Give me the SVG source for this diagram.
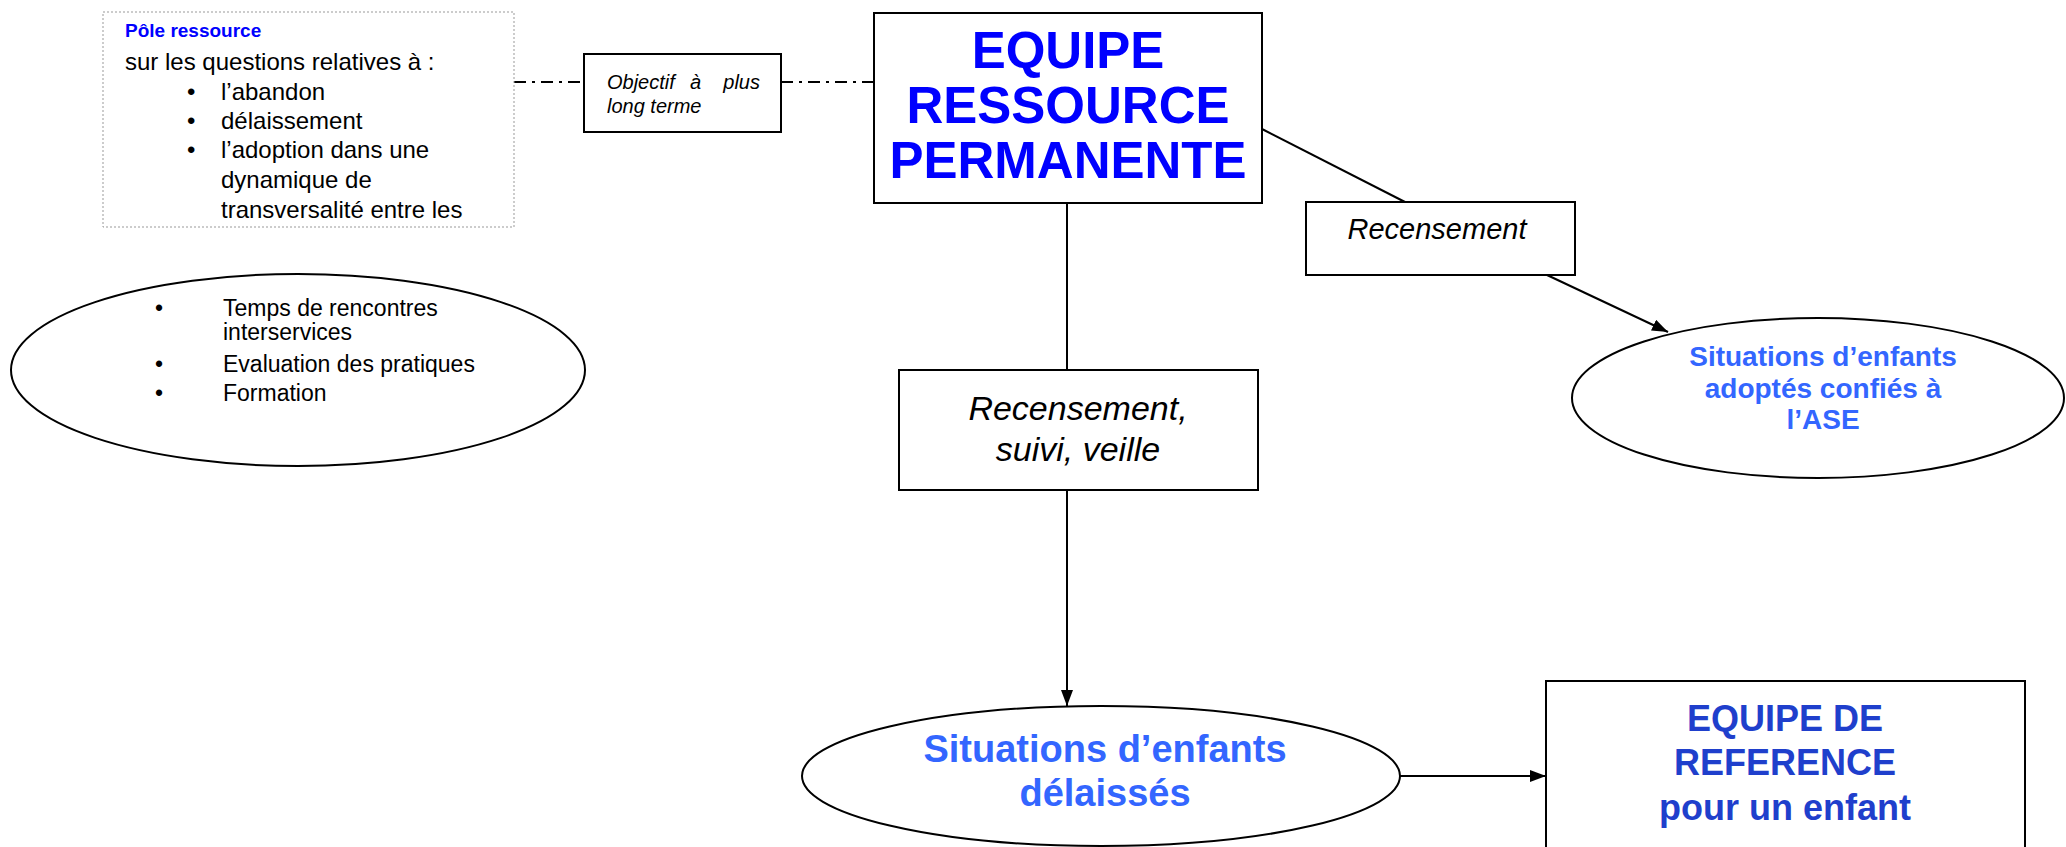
<svg xmlns="http://www.w3.org/2000/svg" width="2066" height="847" viewBox="0 0 2066 847">
<style>
text{font-family:"Liberation Sans",Arial,sans-serif;fill:#000}
.box{fill:#fff;stroke:#000;stroke-width:2}
.ell{fill:#fff;stroke:#000;stroke-width:2}
.ln{stroke:#000;stroke-width:2;fill:none}
.dd{stroke:#000;stroke-width:2;fill:none;stroke-dasharray:12 6 3 6}
.it{font-style:italic}
.b{font-weight:bold}
.blue{fill:#0000FF}
.lblue{fill:#3366FF}
.dblue{fill:#1F3FCC}
</style>
<defs>
<marker id="arr" viewBox="0 0 16 12" refX="16" refY="6" markerWidth="16" markerHeight="12" markerUnits="userSpaceOnUse" orient="auto">
<path d="M0,0 L16,6 L0,12 Z" fill="#000"/>
</marker>
</defs>
<rect width="2066" height="847" fill="#fff"/>

<g id="connectors">
<line class="dd" x1="514" y1="82" x2="584" y2="82"/>
<line class="dd" x1="781" y1="82" x2="874" y2="82"/>
<line class="ln" x1="1067" y1="203" x2="1067" y2="370"/>
<line class="ln" x1="1067" y1="490" x2="1067" y2="706" marker-end="url(#arr)"/>
<line class="ln" x1="1262" y1="129" x2="1405" y2="202"/>
<line class="ln" x1="1547" y1="275" x2="1668" y2="332" marker-end="url(#arr)"/>
<line class="ln" x1="1400" y1="776" x2="1546" y2="776" marker-end="url(#arr)"/>
</g>

<g id="pole">
<rect x="103" y="12" width="411" height="215" fill="#fff" stroke="#999" stroke-width="1" stroke-dasharray="2 2"/>
<text x="125" y="37" font-size="19" class="b blue">Pôle ressource</text>
<g font-size="24">
<text x="125" y="70">sur les questions relatives à :</text>
<text x="187" y="100">•</text><text x="221" y="100">l’abandon</text>
<text x="187" y="129">•</text><text x="221" y="129">délaissement</text>
<text x="187" y="158">•</text><text x="221" y="158">l’adoption dans une</text>
<text x="221" y="188">dynamique de</text>
<text x="221" y="218">transversalité entre les</text>
</g>
</g>

<g id="objectif">
<rect class="box" x="584" y="54" width="197" height="78"/>
<g font-size="20" class="it">
<text x="607" y="89">Objectif</text>
<text x="690" y="89">à</text>
<text x="760" y="89" text-anchor="end">plus</text>
<text x="607" y="113">long terme</text>
</g>
</g>

<g id="equipe-ressource">
<rect class="box" x="874" y="13" width="388" height="190"/>
<g font-size="51" class="b" text-anchor="middle">
<text x="1068" y="68" class="blue">EQUIPE</text>
<text x="1068" y="123" class="blue">RESSOURCE</text>
<text x="1068" y="178" class="blue">PERMANENTE</text>
</g>
</g>

<g id="suivi">
<rect class="box" x="899" y="370" width="359" height="120"/>
<text x="1078" y="420" font-size="34" class="it" text-anchor="middle">Recensement,</text>
<text x="1078" y="461" font-size="34" class="it" text-anchor="middle">suivi, veille</text>
</g>

<g id="recensement">
<rect class="box" x="1306" y="202" width="269" height="73"/>
<text x="1437" y="239" font-size="29" class="it" text-anchor="middle">Recensement</text>
</g>

<g id="adoptes">
<ellipse class="ell" cx="1818" cy="398" rx="246" ry="80"/>
<g font-size="28" class="b" text-anchor="middle">
<text x="1823" y="366" class="lblue">Situations d’enfants</text>
<text x="1823" y="398" class="lblue">adoptés confiés à</text>
<text x="1823" y="429" class="lblue">l’ASE</text>
</g>
</g>

<g id="delaisses">
<ellipse class="ell" cx="1101" cy="776" rx="299" ry="70"/>
<text x="1105" y="762" font-size="38" class="b lblue" text-anchor="middle">Situations d’enfants</text>
<text x="1105" y="806" font-size="38" class="b lblue" text-anchor="middle">délaissés</text>
</g>

<g id="reference">
<rect class="box" x="1546" y="681" width="479" height="220"/>
<g font-size="36" class="b" text-anchor="middle">
<text x="1785" y="731" class="dblue">EQUIPE DE</text>
<text x="1785" y="775" class="dblue">REFERENCE</text>
<text x="1785" y="820" class="dblue">pour un enfant</text>
</g>
</g>

<g id="actions">
<ellipse class="ell" cx="298" cy="370" rx="287" ry="96"/>
<g font-size="23">
<text x="155" y="316">•</text><text x="223" y="316">Temps de rencontres</text>
<text x="223" y="340">interservices</text>
<text x="155" y="372">•</text><text x="223" y="372">Evaluation des pratiques</text>
<text x="155" y="401">•</text><text x="223" y="401">Formation</text>
</g>
</g>
</svg>
